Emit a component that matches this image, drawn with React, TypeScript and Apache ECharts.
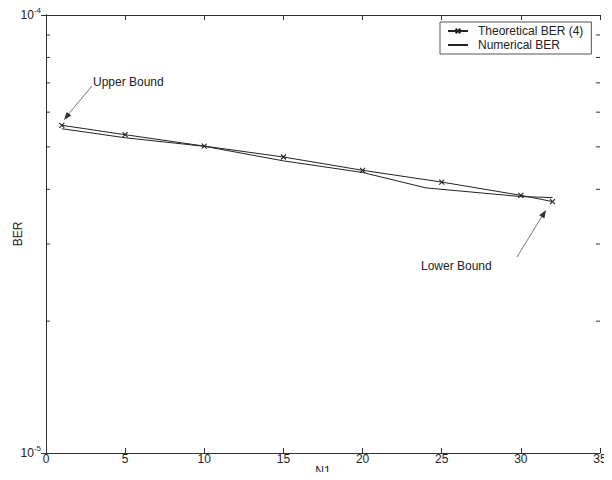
import React, { useEffect, useRef } from "react";
import * as echarts from "echarts";

const xTheory = [1, 5, 10, 15, 20, 25, 30, 32];
const berTheory = [5.6e-5, 5.33e-5, 5.02e-5, 4.74e-5, 4.42e-5, 4.155e-5, 3.875e-5, 3.75e-5];
const xNumerical = [1, 5, 10, 15, 20, 24, 30, 32];
const berNumerical = [5.5e-5, 5.245e-5, 5.015e-5, 4.645e-5, 4.37e-5, 4.03e-5, 3.85e-5, 3.83e-5];
const minorTickValues = [2e-5, 3e-5, 4e-5, 5e-5, 6e-5, 7e-5, 8e-5, 9e-5];
const xTicks = [0, 5, 10, 15, 20, 25, 30, 35];
const legendNames = ["Theoretical BER (4)", "Numerical BER"];

const FONT = "Liberation Sans, Arial, sans-serif";
const INK = "#222";

export default function App() {
  const ref = useRef<HTMLDivElement>(null);
  useEffect(() => {
    if (!ref.current) return;
    const chart = echarts.init(ref.current, undefined, { renderer: "svg" });
    const crossPath = "path://M0,0L10,10M10,0L0,10";
    const option: any = {
      animation: false,
      backgroundColor: "#ffffff",
      textStyle: { fontFamily: FONT },
      grid: { left: 46, right: 12, top: 15, bottom: 27, show: false, outerBoundsMode: "none", containLabel: false },
      legend: {
        data: [
          { name: legendNames[0] },
          { name: legendNames[1], itemStyle: { color: "transparent", borderWidth: 0, borderColor: "transparent" } },
        ],
        orient: "vertical",
        left: 440,
        top: 22,
        padding: [3, 8, 3, 7],
        itemGap: 2,
        itemWidth: 20,
        itemHeight: 6,
        borderColor: "#555",
        borderWidth: 1,
        backgroundColor: "#fff",
        borderRadius: 0,
        textStyle: { fontFamily: FONT, fontSize: 12, color: INK, padding: [0, 0, 0, 5], lineHeight: 12 },
      },
      xAxis: [
        {
          type: "value",
          min: xTicks[0],
          max: xTicks[xTicks.length - 1],
          interval: 5,
          name: "N1",
          nameLocation: "middle",
          nameGap: 12,
          nameMoveOverlap: false,
          nameTextStyle: { fontFamily: FONT, fontSize: 12, color: INK },
          axisLine: { show: true, lineStyle: { color: "#333", width: 1 } },
          axisTick: { show: true, inside: true, length: 5, lineStyle: { color: "#333" } },
          axisLabel: { fontFamily: FONT, fontSize: 12, color: INK, margin: 0 },
          splitLine: { show: false },
        },
        {
          type: "value",
          position: "top",
          min: xTicks[0],
          max: xTicks[xTicks.length - 1],
          interval: 5,
          axisLine: { show: true, lineStyle: { color: "#333", width: 1 } },
          axisTick: { show: true, inside: true, length: 5, lineStyle: { color: "#333" } },
          axisLabel: { show: false },
          splitLine: { show: false },
        },
      ],
      yAxis: [
        {
          type: "log",
          logBase: 10,
          min: 1e-5,
          max: 1e-4,
          name: "BER",
          nameLocation: "middle",
          nameGap: 22,
          nameMoveOverlap: false,
          nameTextStyle: { fontFamily: FONT, fontSize: 12, color: INK },
          axisLine: { show: true, lineStyle: { color: "#333", width: 1 } },
          axisTick: { show: true, inside: true, length: 5, lineStyle: { color: "#333" } },
          axisLabel: {
            margin: 5,
            fontFamily: FONT,
            fontSize: 12,
            color: INK,
            formatter: (v: number) => (v > 5e-5 ? "{b|10}{s|-4}" : "{b|10}{s|-5}"),
            rich: {
              b: { fontFamily: FONT, fontSize: 12, color: INK },
              s: { fontFamily: FONT, fontSize: 8, color: INK, padding: [0, 0, 9, 0] },
            },
          },
          splitLine: { show: false },
          minorSplitLine: { show: false },
        },
        {
          type: "log",
          logBase: 10,
          min: 1e-5,
          max: 1e-4,
          position: "right",
          axisLine: { show: true, lineStyle: { color: "#333", width: 1 } },
          axisTick: { show: true, inside: true, length: 5, lineStyle: { color: "#333" } },
          axisLabel: { show: false },
          splitLine: { show: false },
        },
      ],
      series: [
        {
          name: legendNames[0],
          type: "line",
          data: xTheory.map((x, i) => [x, berTheory[i]]),
          symbol: crossPath,
          symbolSize: 5,
          showSymbol: true,
          lineStyle: { color: "#222", width: 1 },
          itemStyle: { color: "#222", borderColor: "#222", borderWidth: 1.1 },
          z: 3,
        },
        {
          name: legendNames[1],
          type: "line",
          data: xNumerical.map((x, i) => [x, berNumerical[i]]),
          symbol: "none",
          showSymbol: false,
          lineStyle: { color: "#222", width: 1 },
          itemStyle: { color: "#222" },
          z: 2,
        },
        {
          type: "custom",
          silent: true,
          data: minorTickValues.map((v) => [0, v]),
          encode: { x: 0, y: 1 },
          renderItem: (params: any, api: any) => {
            const v = api.value(1);
            const p = api.coord([xTicks[0], v]);
            const q = api.coord([xTicks[xTicks.length - 1], v]);
            const st = { stroke: "#333", lineWidth: 1 };
            return {
              type: "group",
              children: [
                { type: "line", shape: { x1: p[0], y1: p[1], x2: p[0] + 4, y2: p[1] }, style: st },
                { type: "line", shape: { x1: q[0], y1: q[1], x2: q[0] - 4, y2: q[1] }, style: st },
              ],
            };
          },
          z: 1,
        },
      ],
      graphic: [
        {
          type: "text",
          left: 93,
          top: 76,
          style: { text: "Upper Bound", font: `12px ${FONT}`, fill: INK },
        },
        {
          type: "line",
          shape: { x1: 92, y1: 86, x2: 66, y2: 117 },
          style: { stroke: "#555", lineWidth: 0.8 },
        },
        {
          type: "polygon",
          shape: { points: [[64, 120], [71.3, 115.6], [66.7, 111.9]] },
          style: { fill: "#333" },
        },
        {
          type: "text",
          left: 421,
          top: 260,
          style: { text: "Lower Bound", font: `12px ${FONT}`, fill: INK },
        },
        {
          type: "line",
          shape: { x1: 517, y1: 257, x2: 544, y2: 213 },
          style: { stroke: "#555", lineWidth: 0.8 },
        },
        {
          type: "polygon",
          shape: { points: [[546, 210], [544.4, 218.4], [539.2, 215.2]] },
          style: { fill: "#333" },
        },
      ],
    };
    chart.setOption(option);
    return () => chart.dispose();
  }, []);
  return <div ref={ref} style={{ width: 612, height: 480, margin: -8 }} />;
}
